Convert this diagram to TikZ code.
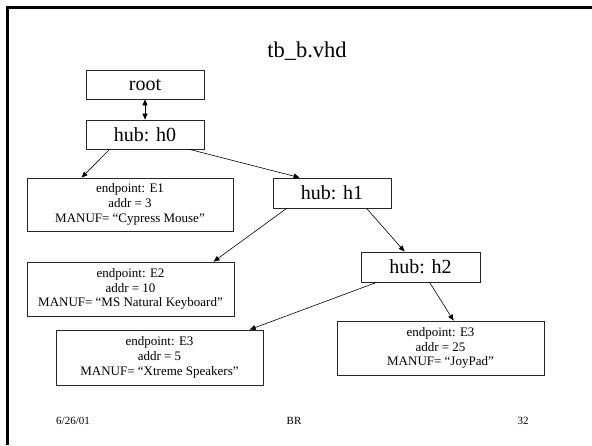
\documentclass[tikz,border=0pt]{standalone}
\usepackage{fontspec}
\setmainfont{Liberation Serif}
\usetikzlibrary{arrows.meta,calc}
\begin{document}
\begin{tikzpicture}[x=1pt,y=-1pt,
  hubbox/.style={draw=black!85,line width=0.8pt,minimum width=118pt,minimum height=29pt,inner sep=0pt,font=\fontsize{20}{22}\selectfont},
  epbox/.style={draw=black!85,line width=0.8pt,minimum width=207pt,minimum height=54pt,inner sep=0pt,align=center,font=\fontsize{13}{14.7}\selectfont},
  conn/.style={line width=0.6pt,-{Triangle[length=6pt,width=5pt]}},
  foot/.style={font=\fontsize{11}{13}\selectfont,inner sep=0pt}]
\useasboundingbox (0,0) rectangle (592,445);
\fill[white] (0,0) rectangle (592,445);
\draw[line width=3pt] (7.7,445) -- (7.7,7.5) -- (592,7.5);
\node[anchor=base,inner sep=0pt,font=\fontsize{22.5}{25}\selectfont] (title) at (307,57) {tb\_b.vhd};
\node[hubbox] (root) at (145,84.5) {root};
\node[hubbox] (h0) at (145,134.5) {hub: h0};
\node[epbox,minimum width=206pt,minimum height=53pt] (e1) at (130,204.5) {endpoint: E1\\addr = 3\\MANUF= “Cypress Mouse”};
\node[hubbox,minimum height=30pt] (h1) at (332,193) {hub: h1};
\node[epbox] (e2) at (130.5,289) {endpoint: E2\\addr = 10\\MANUF= “MS Natural Keyboard”};
\node[hubbox,minimum width=119pt,minimum height=30pt] (h2) at (420.5,267) {hub: h2};
\node[epbox,minimum height=55pt] (e3l) at (159.5,357.5) {endpoint: E3\\addr = 5\\MANUF= “Xtreme Speakers”};
\node[epbox] (e3r) at (440.5,348) {endpoint: E3\\addr = 25\\MANUF= “JoyPad”};
\draw[line width=0.6pt,{Triangle[length=6pt,width=5pt]}-{Triangle[length=6pt,width=5pt]}] (root.south) -- (h0.north);
\draw[conn] ([xshift=24pt]h0.south west) -- ([xshift=55pt]e1.north west);
\draw[conn] ([xshift=104pt]h0.south west) -- ([xshift=27pt]h1.north west);
\draw[conn] ([xshift=14pt]h1.south west) -- ([xshift=187pt]e2.north west);
\draw[conn] ([xshift=94pt]h1.south west) -- ([xshift=44pt]h2.north west);
\draw[conn] ([xshift=16pt]h2.south west) -- ([xshift=194pt]e3l.north west);
\draw[conn] ([xshift=69pt]h2.south west) -- ([xshift=117pt]e3r.north west);
\node[foot] (date) at (73,421) {6/26/01};
\node[foot] (auth) at (294,421) {BR};
\node[foot] (page) at (523,421) {32};
\end{tikzpicture}
\end{document}
